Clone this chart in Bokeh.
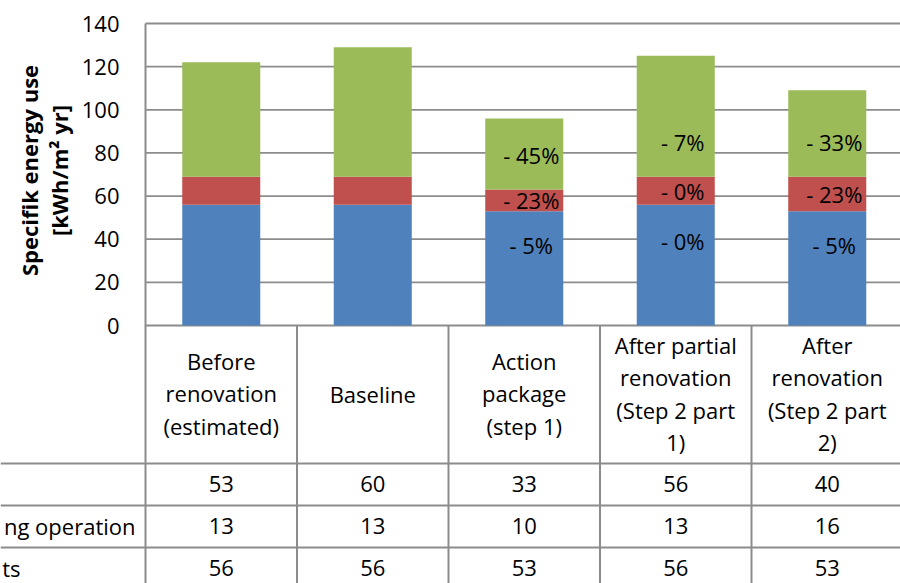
import math
from bokeh.plotting import figure
from bokeh.models import ColumnDataSource, Range1d, FixedTicker
from bokeh.core.properties import value
from bokeh.embed import file_html
from bokeh.resources import INLINE

# ---- data ----
categories = [
    "Before\nrenovation\n(estimated)",
    "Baseline",
    "Action\npackage\n(step 1)",
    "After partial\nrenovation\n(Step 2 part\n1)",
    "After\nrenovation\n(Step 2 part\n2)",
]
series_bottom = [56, 56, 53, 56, 53]   # blue
series_middle = [13, 13, 10, 13, 16]   # red
series_top = [53, 60, 33, 56, 40]      # green
pct_bottom = ["", "", "- 5%", "- 0%", "- 5%"]
pct_middle = ["", "", "- 23%", "- 0%", "- 23%"]
pct_top = ["", "", "- 45%", "- 7%", "- 33%"]
row_labels = ["", "ng operation", "ts"]          # visible (cropped) row labels
y_ticks = [0, 20, 40, 60, 80, 100, 120, 140]
y_label_lines = ["Specifik energy use", "[kWh/m\u00b2 yr]"]

# ---- layout / style ----
W, H = 900, 583
AXIS_PX = 145          # x pixel of the value axis
TOP = 23               # y pixel of 140
ZERO_PX = 325          # y pixel of 0
Y_MAX = 140
PPU = (ZERO_PX - TOP) / Y_MAX
CAT_PX = 151.5
FONT = "Open Sans"
FS = 22
LH = 32 / (1.362 * FS)
GRAY = "#8c8c8c"
BLUE, RED, GREEN = "#4F81BD", "#C0504D", "#9BBB59"


def ypx(py):   # canvas pixel row -> data y
    return (ZERO_PX - py) / PPU


def xpx(px):   # canvas pixel column -> data x
    return (px - AXIS_PX) / CAT_PX


n = len(categories)
xs = [i + 0.5 for i in range(n)]
x_left, x_end = xpx(0), xpx(W)
y_bottom, y_top = ypx(H), ypx(0)

src = ColumnDataSource(dict(x=xs, bottom_s=series_bottom, middle_s=series_middle, top_s=series_top))

p = figure(width=W, height=H, x_range=Range1d(x_left, x_end), y_range=Range1d(y_bottom, y_top),
           toolbar_location=None, output_backend="svg", x_axis_location=None,
           min_border_left=0, min_border_right=0, min_border_top=0, min_border_bottom=0)
p.outline_line_color = None
p.grid.visible = False

ax = p.yaxis[0]
ax.fixed_location = 0
ax.ticker = FixedTicker(ticks=y_ticks)
ax.major_tick_in = 0
ax.major_tick_out = 0
ax.minor_tick_in = 0
ax.minor_tick_out = 0
ax.major_label_standoff = 26
ax.major_label_text_font = FONT
ax.major_label_text_font_size = f"{FS}px"
ax.major_label_text_color = "black"
ax.axis_line_color = None

# value-axis line (from the top gridline down through the table) and horizontal gridlines
p.segment(x0=[0], x1=[0], y0=[Y_MAX], y1=[y_bottom], line_color=GRAY, line_width=2)
p.segment(x0=[0] * len(y_ticks), x1=[x_end] * len(y_ticks), y0=y_ticks, y1=y_ticks,
          line_color=GRAY, line_width=1.8)

p.vbar_stack(["bottom_s", "middle_s", "top_s"], x="x", width=0.515, color=[BLUE, RED, GREEN],
             line_color=None, source=src)

# percentage labels
lx, ly, lt = [], [], []
for i in range(n):
    b, m, t = series_bottom[i], series_middle[i], series_top[i]
    for txt, yy in ((pct_bottom[i], 0.7 * b), (pct_middle[i], b + m / 2), (pct_top[i], b + m + min(16, t / 2))):
        if txt:
            lx.append(xs[i]); ly.append(yy); lt.append(txt)
p.text(x=lx, y=ly, text=lt, x_offset=7, text_align="center", text_baseline="middle",
       text_font=value(FONT), text_font_size=f"{FS}px", text_color="black")

# y axis title (two rotated lines)
p.text(x=[xpx(28), xpx(58)], y=[ypx(170)] * 2, text=y_label_lines, angle=math.pi / 2,
       text_align="center", text_baseline="middle", text_font=value(FONT),
       text_font_style="bold", text_font_size="22px", text_color="black")

# ---- data table below the chart ----
HEADER_BOTTOM = 463
ROW_H = 42
p.segment(x0=list(range(1, n)), x1=list(range(1, n)), y0=[0] * (n - 1), y1=[y_bottom] * (n - 1),
          line_color=GRAY, line_width=2)
hy = [ypx(HEADER_BOTTOM + k * ROW_H) for k in range(3)]
p.segment(x0=[x_left] * 3, x1=[x_end] * 3, y0=hy, y1=hy, line_color=GRAY, line_width=2)

p.text(x=xs, y=[ypx((ZERO_PX + HEADER_BOTTOM) / 2 - 1)] * n, text=categories,
       text_align="center", text_baseline="middle", text_font=value(FONT),
       text_font_size=f"{FS}px", text_color="black", text_line_height=LH)

rows = [series_top, series_middle, series_bottom]
tx, ty, tt = [], [], []
for r, vals in enumerate(rows):
    for i, v in enumerate(vals):
        tx.append(xs[i]); ty.append(ypx(HEADER_BOTTOM + r * ROW_H + ROW_H / 2 - 1)); tt.append(str(v))
p.text(x=tx, y=ty, text=tt, text_align="center", text_baseline="middle",
       text_font=value(FONT), text_font_size=f"{FS}px", text_color="black")

label_right_px = [0, 135, 20]
rx, ry, rt = [], [], []
for r, lab in enumerate(row_labels):
    if lab:
        rx.append(xpx(label_right_px[r]))
        ry.append(ypx(HEADER_BOTTOM + r * ROW_H + ROW_H / 2 - 1))
        rt.append(lab)
p.text(x=rx, y=ry, text=rt, text_align="right", text_baseline="middle",
       text_font=value(FONT), text_font_size=f"{FS}px", text_color="black")

open("out.html", "w").write(file_html(p, INLINE))
